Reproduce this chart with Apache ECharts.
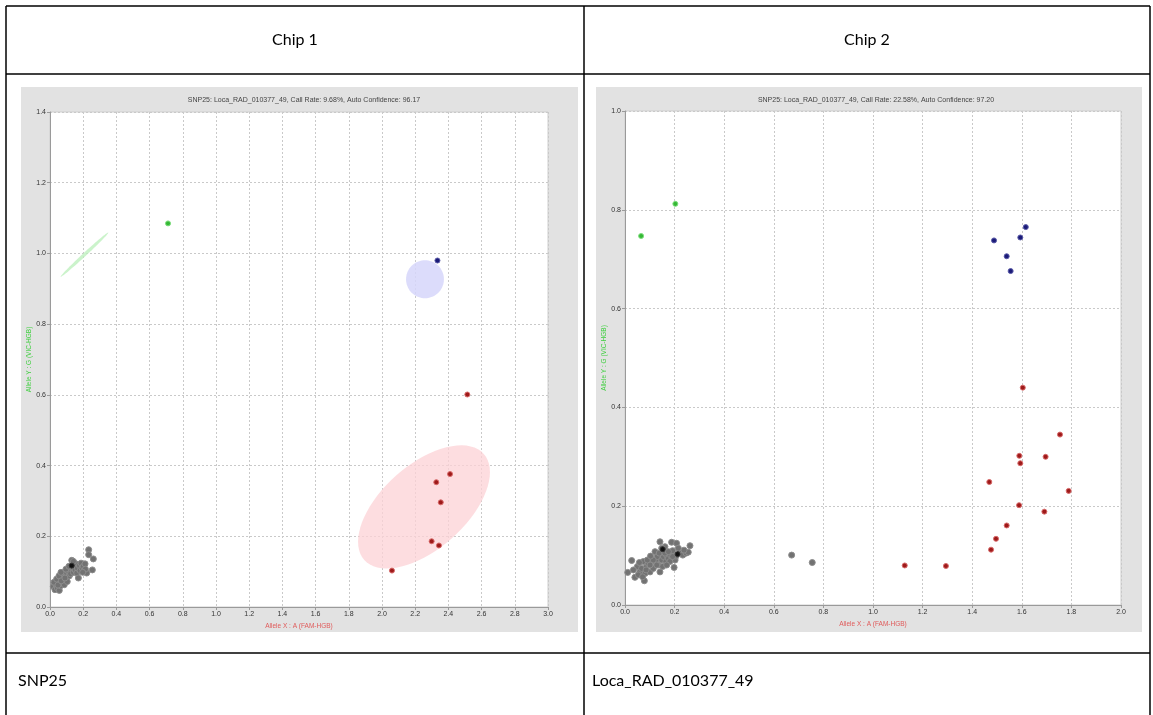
<!DOCTYPE html>
<html>
<head>
<meta charset="utf-8">
<script src="https://cdn.jsdelivr.net/npm/echarts@6.0.0/dist/echarts.min.js"></script>
<style>
  html, body { margin: 0; padding: 0; background: #fff; }
  #chart { width: 1153px; height: 715px; }
</style>
</head>
<body>
<div id="chart"></div>
<script>
// ---- Chip 1 (SNP25) ----
const chip1Title = 'SNP25: Loca_RAD_010377_49, Call Rate: 9.68%, Auto Confidence: 96.17'
const chip1Gray = [
  [0.020, 0.058], [0.030, 0.049], [0.036, 0.063], [0.044, 0.054], [0.050, 0.070],
  [0.056, 0.047], [0.060, 0.077], [0.064, 0.060], [0.070, 0.087], [0.074, 0.070],
  [0.080, 0.094], [0.080, 0.079], [0.086, 0.063], [0.090, 0.098], [0.096, 0.085],
  [0.100, 0.096], [0.104, 0.072], [0.110, 0.101], [0.116, 0.088], [0.120, 0.105],
  [0.124, 0.094], [0.131, 0.132], [0.137, 0.110], [0.141, 0.098], [0.147, 0.117],
  [0.151, 0.105], [0.157, 0.122], [0.161, 0.096], [0.165, 0.110], [0.171, 0.082],
  [0.177, 0.117], [0.181, 0.103], [0.187, 0.124], [0.193, 0.110], [0.201, 0.115],
  [0.205, 0.101], [0.211, 0.122], [0.221, 0.096], [0.213, 0.107], [0.197, 0.098],
  [0.024, 0.070], [0.040, 0.079], [0.054, 0.088], [0.066, 0.098], [0.096, 0.107],
  [0.114, 0.115], [0.141, 0.129], [0.048, 0.062], [0.068, 0.074], [0.090, 0.082],
  [0.233, 0.162], [0.233, 0.148], [0.261, 0.136], [0.255, 0.105]
]
const chip1Black = [[0.131, 0.117]]
const chip1Red = [
  [2.514, 0.601], [2.410, 0.376], [2.327, 0.353], [2.354, 0.296],
  [2.299, 0.186], [2.343, 0.174], [2.060, 0.103]
]
const chip1Blue = [[2.334, 0.980]]
const chip1Green = [[0.711, 1.085]]
// ellipse: centre x, centre y, half-axis A (x, y), half-axis B (x, y)
const chip1RedEllipse = [[2.253, 0.283, 0.360, 0.150, 0.168, -0.0887]]
const chip1BlueEllipse = [[2.259, 0.927, 0.114, 0, 0, 0.0537]]
const chip1GreenEllipse = [[0.2075, 0.9965, 0.1435, 0.0625, 0.007, -0.0035]]

// ---- Chip 2 (Loca_RAD_010377_49) ----
const chip2Title = 'SNP25: Loca_RAD_010377_49, Call Rate: 22.58%, Auto Confidence: 97.20'
const chip2Gray = [
  [0.011, 0.066], [0.027, 0.090], [0.040, 0.056], [0.050, 0.078], [0.060, 0.067],
  [0.067, 0.074], [0.074, 0.088], [0.078, 0.049], [0.081, 0.064], [0.087, 0.078],
  [0.094, 0.084], [0.101, 0.067], [0.108, 0.088], [0.114, 0.074], [0.121, 0.108],
  [0.125, 0.091], [0.130, 0.098], [0.134, 0.081], [0.141, 0.128], [0.141, 0.067],
  [0.148, 0.091], [0.155, 0.098], [0.161, 0.118], [0.165, 0.088], [0.168, 0.101],
  [0.175, 0.094], [0.184, 0.101], [0.188, 0.127], [0.192, 0.110], [0.198, 0.076],
  [0.202, 0.091], [0.208, 0.125], [0.222, 0.105], [0.233, 0.101], [0.246, 0.105],
  [0.255, 0.107], [0.262, 0.120], [0.054, 0.061], [0.071, 0.057], [0.085, 0.071],
  [0.101, 0.081], [0.114, 0.091], [0.128, 0.081], [0.138, 0.105], [0.148, 0.115],
  [0.161, 0.105], [0.181, 0.088], [0.206, 0.099], [0.034, 0.071], [0.058, 0.086],
  [0.090, 0.091], [0.103, 0.099], [0.152, 0.078], [0.175, 0.108], [0.215, 0.115],
  [0.238, 0.111], [0.192, 0.098], [0.168, 0.081],
  [0.672, 0.101], [0.755, 0.086]
]
const chip2Black = [[0.152, 0.113], [0.212, 0.103]]
const chip2Red = [
  [1.604, 0.440], [1.754, 0.345], [1.590, 0.302], [1.696, 0.300], [1.594, 0.287],
  [1.469, 0.249], [1.789, 0.231], [1.589, 0.202], [1.691, 0.189], [1.539, 0.161],
  [1.496, 0.134], [1.476, 0.112], [1.128, 0.080], [1.294, 0.079]
]
const chip2Blue = [[1.616, 0.765], [1.488, 0.738], [1.594, 0.744], [1.539, 0.706], [1.555, 0.676]]
const chip2Green = [[0.065, 0.747], [0.203, 0.812]]

const chart = echarts.init(document.getElementById('chart'))

const tickFont = { fontSize: 7, color: '#333', fontFamily: 'Liberation Sans' }

function ellipseItem(params, api) {
  const cx = api.value(0), cy = api.value(1)
  const ax = api.value(2), ay = api.value(3), bx = api.value(4), by = api.value(5)
  const pts = []
  for (let i = 0; i < 72; i++) {
    const t = i / 72 * Math.PI * 2
    pts.push(api.coord([cx + ax * Math.cos(t) + bx * Math.sin(t), cy + ay * Math.cos(t) + by * Math.sin(t)]))
  }
  return { type: 'polygon', shape: { points: pts }, style: { fill: api.visual('color') } }
}

function makeX(idx, max) {
  return {
    gridIndex: idx, type: 'value', min: 0, max: max, interval: 0.2,
    name: 'Allele X : A (FAM-HGB)', nameLocation: 'middle', nameGap: 10,
    nameTextStyle: { fontSize: 6.5, color: '#e05a5a', fontFamily: 'Liberation Sans' },
    axisLine: { lineStyle: { color: '#9a9a9a' } },
    axisTick: { show: true, length: 3, lineStyle: { color: '#9a9a9a' } },
    axisLabel: Object.assign({ margin: 4, formatter: v => v.toFixed(1) }, tickFont),
    splitLine: { show: true, lineStyle: { color: '#c9c9c9', type: [2, 2] } }
  }
}
function makeY(idx, max) {
  return {
    gridIndex: idx, type: 'value', min: 0, max: max, interval: 0.2,
    name: 'Allele Y : G (VIC-HGB)', nameLocation: 'middle', nameGap: 17,
    nameTextStyle: { fontSize: 6.5, color: '#3fcf3f', fontFamily: 'Liberation Sans' },
    axisLine: { show: true, lineStyle: { color: '#9a9a9a' } },
    axisTick: { show: true, length: 3, lineStyle: { color: '#9a9a9a' } },
    axisLabel: Object.assign({ margin: 4, formatter: v => v.toFixed(1) }, tickFont),
    splitLine: { show: true, lineStyle: { color: '#c9c9c9', type: [2, 2] } }
  }
}
function dots(idx, data, color, border, size) {
  return {
    type: 'scatter', xAxisIndex: idx, yAxisIndex: idx, data: data, z: 3,
    symbolSize: size, silent: true,
    itemStyle: { color: color, borderColor: border, borderWidth: 1, opacity: 1 }
  }
}
function ellipse(idx, data, color) {
  return {
    type: 'custom', xAxisIndex: idx, yAxisIndex: idx, data: data, z: 2,
    encode: { x: 0, y: 1 }, renderItem: ellipseItem, silent: true,
    itemStyle: { color: color }
  }
}

const tableFont = '16px Lato'
const option = {
  animation: false,
  title: [
    { text: chip1Title, left: 299, top: 92, textAlign: 'center',
      textStyle: { fontSize: 7, fontWeight: 'normal', color: '#444', fontFamily: 'Liberation Sans' } },
    { text: chip2Title, left: 871, top: 92, textAlign: 'center',
      textStyle: { fontSize: 7, fontWeight: 'normal', color: '#444', fontFamily: 'Liberation Sans' } }
  ],
  graphic: [
    { type: 'rect', z: -10, shape: { x: 21, y: 87, width: 557, height: 545 }, style: { fill: '#e2e2e2' } },
    { type: 'rect', z: -10, shape: { x: 596, y: 87, width: 546, height: 545 }, style: { fill: '#e2e2e2' } },
    { type: 'line', z: 100, shape: { x1: 6, y1: 6, x2: 1150, y2: 6 }, style: { stroke: '#000', lineWidth: 1.5 } },
    { type: 'line', z: 100, shape: { x1: 6, y1: 74, x2: 1150, y2: 74 }, style: { stroke: '#000', lineWidth: 1.5 } },
    { type: 'line', z: 100, shape: { x1: 6, y1: 653, x2: 1150, y2: 653 }, style: { stroke: '#000', lineWidth: 1.5 } },
    { type: 'line', z: 100, shape: { x1: 6, y1: 6, x2: 6, y2: 715 }, style: { stroke: '#000', lineWidth: 1.5 } },
    { type: 'line', z: 100, shape: { x1: 584, y1: 6, x2: 584, y2: 715 }, style: { stroke: '#000', lineWidth: 1.5 } },
    { type: 'line', z: 100, shape: { x1: 1150, y1: 6, x2: 1150, y2: 715 }, style: { stroke: '#000', lineWidth: 1.5 } },
    { type: 'text', z: 100, x: 295, y: 40, style: { text: 'Chip 1', font: tableFont, fill: '#000', align: 'center', verticalAlign: 'middle' } },
    { type: 'text', z: 100, x: 867, y: 40, style: { text: 'Chip 2', font: tableFont, fill: '#000', align: 'center', verticalAlign: 'middle' } },
    { type: 'text', z: 100, x: 18, y: 681, style: { text: 'SNP25', font: tableFont, fill: '#000', verticalAlign: 'middle' } },
    { type: 'text', z: 100, x: 592, y: 681, style: { text: 'Loca_RAD_010377_49', font: tableFont, fill: '#000', verticalAlign: 'middle' } }
  ],
  grid: [
    { left: 50, right: 1153 - 548, top: 112, bottom: 715 - 607, show: true,
      backgroundColor: '#fff', borderColor: '#cfcfcf', borderWidth: 1 },
    { left: 625, right: 1153 - 1121, top: 111, bottom: 715 - 605, show: true,
      backgroundColor: '#fff', borderColor: '#cfcfcf', borderWidth: 1 }
  ],
  xAxis: [makeX(0, 3.0), makeX(1, 2.0)],
  yAxis: [makeY(0, 1.4), makeY(1, 1.0)],
  series: [
    ellipse(0, chip1RedEllipse, 'rgba(252, 210, 214, 0.75)'),
    ellipse(0, chip1BlueEllipse, 'rgba(214, 214, 250, 0.85)'),
    ellipse(0, chip1GreenEllipse, 'rgba(190, 240, 190, 0.8)'),
    dots(0, chip1Gray, '#727272', '#8c8c8c', 6),
    dots(0, chip1Black, '#111', '#333', 5),
    dots(0, chip1Red, '#9e1a1a', '#d86a6a', 5),
    dots(0, chip1Blue, '#1b1b78', '#5a5aa8', 5),
    dots(0, chip1Green, '#35b835', '#7ede7e', 5),
    dots(1, chip2Gray, '#727272', '#8c8c8c', 6),
    dots(1, chip2Black, '#111', '#333', 5),
    dots(1, chip2Red, '#9e1a1a', '#d86a6a', 5),
    dots(1, chip2Blue, '#1b1b78', '#5a5aa8', 5),
    dots(1, chip2Green, '#35b835', '#7ede7e', 5)
  ]
}
chart.setOption(option)
</script>
</body>
</html>
